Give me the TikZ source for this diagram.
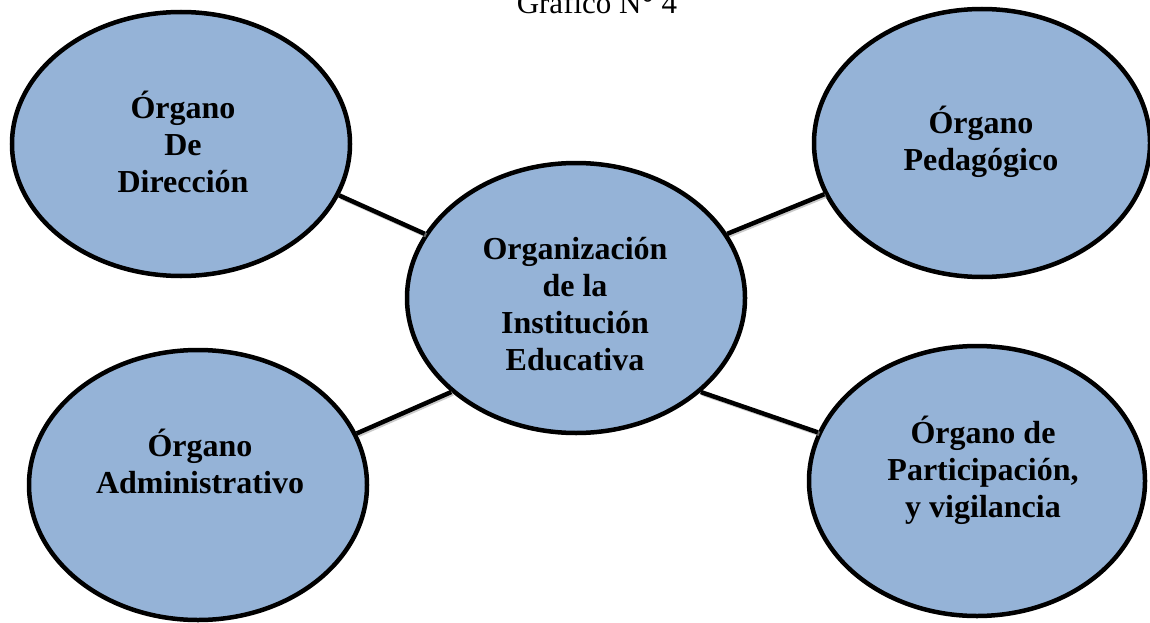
\documentclass[tikz,border=0pt]{standalone}
\usepackage{fontspec}
\setmainfont{Liberation Serif}
\usetikzlibrary{shapes.geometric}
\definecolor{orgfill}{HTML}{95B3D7}
\tikzset{
  organ/.style={ellipse, draw=black, line width=4.5pt, fill=orgfill, inner sep=0pt},
  organtext/.style={align=center, anchor=base, inner sep=0pt, font=\bfseries\fontsize{32}{37}\selectfont},
  link/.style={line width=4.5pt, line cap=butt},
  linkshadow/.style={line width=4.5pt, draw=black!35, opacity=0.6}
}
\begin{document}
\begin{tikzpicture}[x=1pt,y=-1pt]
\useasboundingbox (0,0) rectangle (1150,623);
\clip (0,0) rectangle (1150,623);
\node[anchor=base, inner sep=0pt, font=\fontsize{31}{36}\selectfont] (title) at (597,14) {Gráfico N° 4};
% ellipses
\node[organ, minimum width=338pt, minimum height=264pt] (dir) at (181,144) {};
\node[organ, minimum width=336pt, minimum height=268pt] (ped) at (982,143) {};
\node[organ, minimum width=338pt, minimum height=270pt] (org) at (576,298) {};
\node[organ, minimum width=338pt, minimum height=270pt] (adm) at (198,485) {};
\node[organ, minimum width=336pt, minimum height=270pt] (par) at (977,481) {};
% connectors
\draw[linkshadow] ([xshift=1.5pt,yshift=-1.5pt]dir.-18) -- ([xshift=1.5pt,yshift=-1.5pt]org.157);
\draw[linkshadow] ([xshift=1.5pt,yshift=-1.5pt]org.23) -- ([xshift=1.5pt,yshift=-1.5pt]ped.198.6);
\draw[linkshadow] ([xshift=1.5pt,yshift=-1.5pt]adm.18.6) -- ([xshift=1.5pt,yshift=-1.5pt]org.217.5);
\draw[linkshadow] ([xshift=1.5pt,yshift=-1.5pt]org.-37) -- ([xshift=1.5pt,yshift=-1.5pt]par.163);
\draw[link] (dir.-18) -- (org.157);
\draw[link] (org.23) -- (ped.198.6);
\draw[link] (adm.18.6) -- (org.217.5);
\draw[link] (org.-37) -- (par.163);
% texts (base anchor = baseline of last line)
\node[organtext] (dirt) at (183,192) {Órgano\\De\\Dirección};
\node[organtext] (pedt) at (981,170) {Órgano\\Pedagógico};
\node[organtext] (orgt) at (575,370) {Organización\\de la\\Institución\\Educativa};
\node[organtext] (admt) at (200,493) {Órgano\\Administrativo};
\node[organtext] (part) at (983,517) {Órgano de\\Participación,\\y vigilancia};
\end{tikzpicture}
\end{document}
